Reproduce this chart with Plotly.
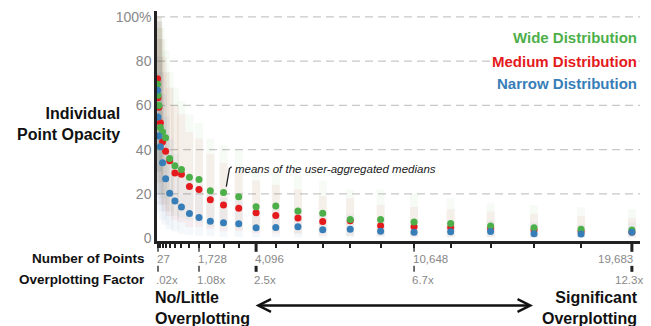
import plotly.graph_objects as go

# ---- data ----
num_points = [8, 27, 64, 125, 216, 343, 512, 729, 1000, 1331, 1728, 2197, 2744, 3375,
              4096, 4913, 5832, 6859, 8000, 9261, 10648, 12167, 13824, 15625, 17576, 19683]

wide_mean = [69.6, 64.6, 60.0, 50.0, 48.0, 45.4, 36.0, 32.7, 31.0, 27.5, 26.5, 21.4, 20.6,
             18.7, 14.2, 14.5, 12.2, 11.2, 8.4, 8.4, 7.3, 6.6, 5.4, 4.6, 4.0, 3.6]
medium_mean = [72.0, 63.4, 59.2, 52.2, 43.5, 39.3, 35.0, 29.4, 28.9, 23.3, 22.0, 17.3, 14.9,
               13.5, 11.4, 10.2, 9.1, 7.5, 7.8, 5.5, 5.1, 4.8, 4.3, 3.6, 3.0, 2.7]
narrow_mean = [66.8, 54.7, 46.2, 41.3, 34.0, 26.8, 20.3, 16.7, 14.0, 11.1, 9.3, 7.6, 6.9,
               6.4, 4.6, 4.8, 5.1, 3.7, 4.0, 3.1, 2.6, 2.8, 3.0, 1.9, 1.8, 2.6]

# approximate spread of the individual responses (faint cloud)
wide_hi = [100, 100, 98, 95, 90, 85, 75, 68, 62, 56, 52, 45, 42, 40, 32, 30, 28, 26, 22, 22, 20, 18, 16, 15, 14, 13]
wide_lo = [35, 30, 25, 20, 18, 15, 12, 10, 9, 8, 7, 5, 5, 4, 3, 3, 2, 2, 1, 1, 1, 1, 1, 0.5, 0.5, 0.5]
medium_hi = [100, 98, 95, 90, 82, 75, 68, 60, 56, 48, 45, 38, 34, 30, 26, 24, 22, 19, 18, 15, 14, 13, 12, 11, 10, 9]
medium_lo = [40, 30, 25, 20, 15, 12, 10, 8, 7, 5, 5, 4, 3, 3, 2, 2, 2, 1, 1, 1, 0.5, 0.5, 0.5, 0.3, 0.3, 0.3]
narrow_hi = [98, 90, 82, 75, 65, 55, 45, 38, 32, 27, 24, 20, 18, 17, 13, 13, 13, 11, 11, 9, 8, 8, 8, 7, 6, 7]
narrow_lo = [30, 20, 15, 12, 8, 6, 4, 3, 2, 1.5, 1, 1, 0.5, 0.5, 0.3, 0.3, 0.3, 0.2, 0.2, 0.2, 0.1, 0.1, 0.1, 0.1, 0.1, 0.1]

tick_points = [27, 64, 125, 216, 343, 512, 729, 1000, 1331, 1728, 2197, 2744, 3375, 4096,
               4913, 5832, 6859, 8000, 9261, 10648, 12167, 13824, 15625, 17576, 19683]
label_points = [27, 1728, 4096, 10648, 19683]
label_text = ["27", "1,728", "4,096", "10,648", "19,683"]
factor_text = [".02x", "1.08x", "2.5x", "6.7x", "12.3x"]
emphasised = {4096, 19683}

y_ticks = [0, 20, 40, 60, 80, 100]
y_text = ["0", "20", "40", "60", "80", "100%"]

series = [
    ("Medium Distribution", medium_mean, medium_lo, medium_hi, "#e41a1c", (228, 26, 28), 79.8),
    ("Wide Distribution", wide_mean, wide_lo, wide_hi, "#4daf4a", (77, 175, 74), 90.6),
    ("Narrow Distribution", narrow_mean, narrow_lo, narrow_hi, "#377eb8", (55, 126, 184), 70.0),
]

FONT = "Liberation Sans, Arial, Helvetica, sans-serif"
fig = go.Figure()

# faint clouds
for name, mean, lo, hi, col, rgb, ly in series:
    fig.add_trace(go.Scatter(
        x=num_points, y=mean, mode="markers",
        marker=dict(size=1, color="rgba(0,0,0,0)"),
        error_y=dict(type="data", symmetric=False,
                     array=[h - m for h, m in zip(hi, mean)],
                     arrayminus=[m - l for m, l in zip(mean, lo)],
                     color="rgba(%d,%d,%d,0.05)" % rgb, thickness=8, width=0),
        hoverinfo="skip", showlegend=False))

# means
for name, mean, lo, hi, col, rgb, ly in series:
    fig.add_trace(go.Scatter(
        x=num_points, y=mean, mode="markers", name=name,
        marker=dict(size=7, color=col, line=dict(width=0)),
        showlegend=False))

# gridlines
for v in y_ticks[1:]:
    fig.add_shape(type="line", xref="paper", yref="y", x0=0, x1=1, y0=v, y1=v,
                  line=dict(color="#c8c8c8", width=1.3, dash="8px,5px"), layer="below")

# legend text
for name, mean, lo, hi, col, rgb, ly in series:
    fig.add_annotation(xref="paper", yref="y", x=1, y=ly, xanchor="right", yanchor="middle",
                       text="<b>%s</b>" % name, showarrow=False, bgcolor="white",
                       font=dict(family=FONT, size=15, color=col), xshift=-1)

# x labels (two rows) and major ticks
for i, (p, t, f) in enumerate(zip(label_points, label_text, factor_text)):
    last = i == len(label_points) - 1
    w = 3 if p in emphasised else 1.3
    fig.add_shape(type="line", xref="x", yref="paper", x0=p, x1=p, y0=0, y1=-0.047,
                  line=dict(color="#222", width=w))
    fig.add_shape(type="line", xref="x", yref="paper", x0=p, x1=p, y0=-0.108, y1=-0.134,
                  line=dict(color="#222", width=w))
    fig.add_annotation(xref="x", yref="paper", x=p, y=-0.0776,
                       xanchor="right" if last else "left", yanchor="middle",
                       xshift=3 if last else -3, text=t, showarrow=False,
                       font=dict(family=FONT, size=11.5, color="#888"))
    fig.add_annotation(xref="x", yref="paper", x=p, y=-0.168,
                       xanchor="right" if last else "left", yanchor="middle",
                       xshift=13 if last else -4, text=f, showarrow=False,
                       font=dict(family=FONT, size=11.5, color="#888"))

bold = dict(family=FONT, color="#111")
fig.add_annotation(xref="paper", yref="paper", x=-0.0207, y=-0.0776, xanchor="right", yanchor="middle",
                   text="<b>Number of Points</b>", showarrow=False, font=dict(bold, size=13.5))
fig.add_annotation(xref="paper", yref="paper", x=-0.0207, y=-0.168, xanchor="right", yanchor="middle",
                   text="<b>Overplotting Factor</b>", showarrow=False, font=dict(bold, size=13.5))
fig.add_annotation(xref="paper", yref="paper", x=-0.0725, y=0.5086, xanchor="right", yanchor="middle",
                   align="right", text="<b>Individual<br>Point Opacity</b>", showarrow=False,
                   font=dict(bold, size=16))
fig.add_annotation(xref="paper", yref="paper", x=-0.0083, y=-0.293, xanchor="left", yanchor="middle",
                   align="left", text="<b>No/Little<br>Overplotting</b>", showarrow=False,
                   font=dict(bold, size=16))
fig.add_annotation(xref="paper", yref="paper", x=1.0, y=-0.293, xanchor="right", yanchor="middle",
                   align="right", text="<b>Significant<br>Overplotting</b>", showarrow=False,
                   font=dict(bold, size=16))
# double arrow
fig.add_annotation(xref="paper", yref="paper", x=0.7785, y=-0.28, ax=-279, ay=0, text="",
                   showarrow=True, arrowside="end+start", arrowhead=5, startarrowhead=5,
                   arrowsize=1, startarrowsize=1, arrowwidth=2.5, arrowcolor="#111",
                   standoff=0, startstandoff=0)

# callout
fig.add_annotation(xref="x", yref="y", x=3150, y=31.4, xanchor="left", yanchor="middle",
                   text="<i>means of the user-aggregated medians</i>", showarrow=False,
                   font=dict(family=FONT, size=11.5, color="#222"))
fig.add_shape(type="path", xref="x", yref="y",
              path="M 3080,32.2 L 2990,31.4 L 2860,23.2", line=dict(color="#222", width=1.3))

fig.update_xaxes(range=[-14.5, 20020], showline=True, linecolor="#222", linewidth=2.5,
                 ticks="outside", tickvals=tick_points, ticklen=4, tickwidth=1.5, tickcolor="#222",
                 showticklabels=False, showgrid=False, zeroline=False, fixedrange=True)
fig.update_yaxes(range=[-1.35, 102.7], showline=True, linecolor="#222", linewidth=2.5,
                 tickvals=y_ticks, ticktext=y_text, ticks="",
                 tickfont=dict(family=FONT, size=14, color="#888"),
                 showgrid=False, zeroline=False, fixedrange=True)
fig.update_layout(width=651, height=326, autosize=False,
                  margin=dict(l=157, r=11, t=9, b=85),
                  paper_bgcolor="white", plot_bgcolor="white", showlegend=False)

fig.write_html("out.html", config={"displayModeBar": False})
